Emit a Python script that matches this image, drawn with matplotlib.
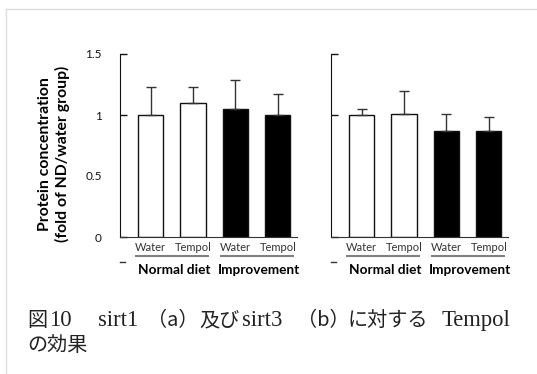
import matplotlib
matplotlib.use('Agg')
import matplotlib.pyplot as plt
from matplotlib.lines import Line2D

# values
conditions = ['Water', 'Tempol', 'Water', 'Tempol']
groups = ['Normal diet', 'Improvement']
sirt1_mean = [1.00, 1.10, 1.05, 1.00]
sirt1_err = [0.23, 0.13, 0.24, 0.17]
sirt3_mean = [1.00, 1.01, 0.87, 0.87]
sirt3_err = [0.05, 0.19, 0.14, 0.11]
bar_colors = ['white', 'white', 'black', 'black']
yticks = [0, 0.5, 1, 1.5]
ytick_labels = ['0', '0.5', '1', '1.5']

plt.rcParams['font.family'] = ['Lato', 'DejaVu Sans']

fig = plt.figure(figsize=(5.37, 3.74), dpi=100)
fig.patch.set_facecolor('white')

# light frame (left and top edges)
fig.add_artist(Line2D([6/537, 6/537], [0, 1 - 9/374], color='#dddddd', lw=1))
fig.add_artist(Line2D([6/537, 1], [1 - 9/374, 1 - 9/374], color='#dddddd', lw=1))

ax1 = fig.add_axes([120/537, 1 - 237/374, 177/537, 183/374])
ax2 = fig.add_axes([331/537, 1 - 237/374, 177/537, 183/374])

x = list(range(len(conditions)))

def draw_panel(ax, means, errs, labels_on):
    ax.bar(x, means, width=0.59, color=bar_colors, edgecolor='#111111', linewidth=1.0)
    ax.errorbar(x, means, yerr=[[0]*len(errs), errs], fmt='none', ecolor='#333333',
                elinewidth=1.0, capsize=3.6, capthick=1.0)
    ax.set_xlim(-0.72, 3.45)
    ax.set_ylim(0, 1.5)
    for s in ['top', 'right']:
        ax.spines[s].set_visible(False)
    ax.spines['left'].set_color('#111111')
    ax.spines['bottom'].set_color('#333333')
    ax.set_xticks([])
    ax.set_yticks(yticks)
    ax.tick_params(axis='y', direction='in', length=5, width=1, pad=13, labelsize=8.5, colors='#111111')
    if labels_on:
        ax.set_yticklabels(ytick_labels, ha='right')
    else:
        ax.set_yticklabels([])
    ax.yaxis.get_major_ticks()[1].tick1line.set_visible(False)
    tr = ax.get_xaxis_transform()
    for xi, lab in zip(x, conditions):
        ax.text(xi, -0.055, lab, transform=tr, ha='center', va='center', fontsize=8, color='#333333')
    for g, name in enumerate(groups):
        a, b = x[2*g], x[2*g + 1]
        ax.plot([a - 0.37, b + 0.37], [-0.104, -0.104], transform=tr, color='#808080', lw=1.5,
                clip_on=False, solid_capstyle='butt')
        ax.text((a + b) / 2 + 0.05, -0.18, name, transform=tr, ha='center', va='center',
                fontsize=9.8, fontweight='bold', color='black')
    ax.plot([0, 0.028], [-0.137, -0.137], transform=ax.transAxes, color='#333333', lw=1, clip_on=False)

draw_panel(ax1, sirt1_mean, sirt1_err, True)
draw_panel(ax2, sirt3_mean, sirt3_err, False)

fig.text(54/537, 1 - 154/374, 'Protein concentration\n(fold of ND/water group)', rotation=90,
         ha='center', va='center', fontsize=11.3, fontweight='bold', linespacing=1.3)

# caption: mixed serif Latin and Japanese, placed piece by piece
cjk = ['Noto Sans CJK JP', 'DejaVu Sans']
serif = ['Liberation Serif', 'Noto Sans CJK JP']
caption_parts = [('図', 27, cjk), ('10', 49, serif), ('sirt1', 98, serif), ('（a）', 147, cjk),
                 ('及び', 199, cjk), ('sirt3', 242, serif), ('（b）', 297, cjk),
                 ('に対する', 348, cjk), ('Tempol', 442, serif)]
for txt, px, fam in caption_parts:
    size = 14.5 if fam is cjk else 16.3
    fig.text(px/537, 1 - 326/374, txt, ha='left', va='baseline', fontsize=size,
             family=fam, color='#222222')
fig.text(27/537, 1 - 351/374, 'の効果', ha='left', va='baseline', fontsize=14.5,
         family=cjk, color='#222222')

fig.savefig('out.png', dpi=100, facecolor='white')
